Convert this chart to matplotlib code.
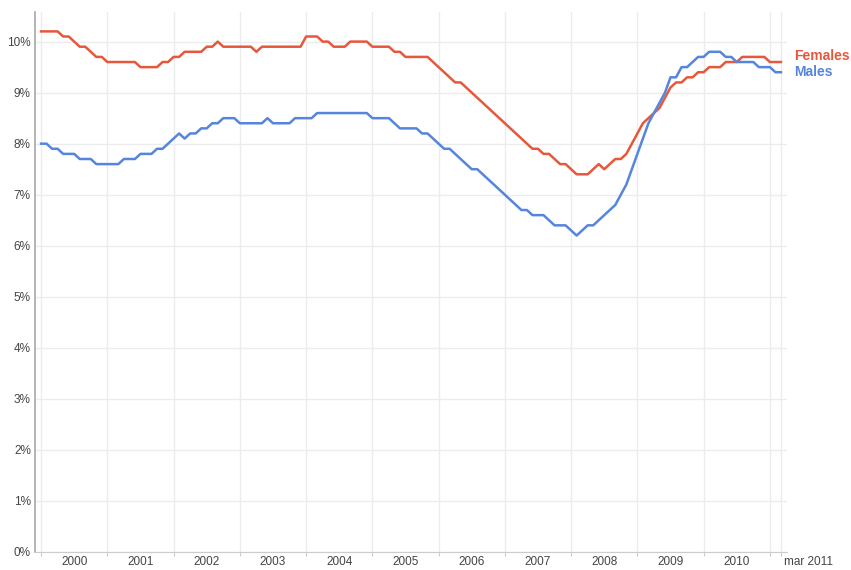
import numpy as np
import matplotlib.pyplot as plt

plt.rcParams['font.family'] = ['Liberation Sans', 'DejaVu Sans']

# monthly unemployment rate (%), Jan 2000 .. Mar 2011
females = ([10.2] * 4 + [10.1] * 2 + [10.0] + [9.9] * 2 + [9.8] + [9.7] * 2
           + [9.6] * 6 + [9.5] * 4 + [9.6] * 2 + [9.7] * 2 + [9.8] * 4
           + [9.9] * 2 + [10.0] + [9.9] * 6 + [9.8] + [9.9] * 8
           + [10.1] * 3 + [10.0] * 2 + [9.9] * 3 + [10.0] * 4 + [9.9] * 4
           + [9.8] * 2 + [9.7] * 5
           + [9.6, 9.5, 9.4, 9.3, 9.2, 9.2, 9.1, 9.0, 8.9, 8.8, 8.7, 8.6, 8.5,
              8.4, 8.3, 8.2, 8.1, 8.0, 7.9, 7.9]
           + [7.8, 7.8, 7.7, 7.6, 7.6, 7.5, 7.4, 7.4, 7.4, 7.5, 7.6, 7.5, 7.6,
              7.7, 7.7, 7.8, 8.0, 8.2, 8.4, 8.5, 8.6, 8.7, 8.9]
           + [9.1, 9.2, 9.2, 9.3, 9.3, 9.4, 9.4, 9.5, 9.5, 9.5, 9.6, 9.6, 9.6]
           + [9.7] * 5 + [9.6] * 3)

males = ([8.0] * 2 + [7.9] * 2 + [7.8] * 3 + [7.7] * 3 + [7.6] * 5
         + [7.7] * 3 + [7.8] * 3 + [7.9] * 2
         + [8.0, 8.1, 8.2, 8.1, 8.2, 8.2, 8.3, 8.3, 8.4, 8.4]
         + [8.5] * 3 + [8.4] * 5 + [8.5] + [8.4] * 4
         + [8.5] * 4 + [8.6] * 10 + [8.5] * 4 + [8.4] + [8.3] * 3
         + [8.3, 8.2, 8.2, 8.1, 8.0, 7.9, 7.9, 7.8, 7.7, 7.6, 7.5, 7.5, 7.4,
            7.3, 7.2, 7.1, 7.0, 6.9, 6.8, 6.7, 6.7, 6.6, 6.6]
         + [6.6, 6.5, 6.4, 6.4, 6.4, 6.3, 6.2, 6.3, 6.4, 6.4, 6.5, 6.6, 6.7,
            6.8, 7.0, 7.2, 7.5, 7.8, 8.1, 8.4, 8.6, 8.8, 9.0]
         + [9.3, 9.3, 9.5, 9.5, 9.6, 9.7, 9.7, 9.8, 9.8, 9.8, 9.7, 9.7]
         + [9.6] * 4 + [9.5] * 3 + [9.4] * 2)

years = [str(y) for y in range(2000, 2011)]
last_label = "mar 2011"

months = np.arange(len(females))

red = '#e6583b'
blue = '#5585dc'
grid = '#ececec'
axis_c = '#a8a8a8'
text_c = '#444444'

fig = plt.figure(figsize=(8.51, 5.70), dpi=100)
ax = fig.add_axes([35 / 851, 18 / 570, 752 / 851, 540 / 570])

ax.set_xlim(-1.1, 135.1)
ax.set_ylim(0, 10.58)

# grid
for y in range(0, 11):
    ax.axhline(y, color=grid, lw=1, zorder=0)
for m in list(range(0, 133, 12)) + [134]:
    ax.axvline(m, color=grid, lw=1, zorder=0)

ax.plot(months, females, color=red, lw=1.8, solid_joinstyle='round', zorder=3)
ax.plot(months, males, color=blue, lw=1.8, solid_joinstyle='round', zorder=3)

for s in ['top', 'right']:
    ax.spines[s].set_visible(False)
ax.spines['left'].set_color(axis_c)
ax.spines['left'].set_linewidth(1.2)
ax.spines['bottom'].set_color('#cccccc')

ax.set_yticks(range(0, 11))
ax.set_yticklabels([f"{y}%" for y in range(0, 11)], fontsize=8.5, color=text_c)
ax.tick_params(axis='y', length=0, pad=3)

ax.set_xticks(list(range(0, 133, 12)) + [134])
ax.set_xticklabels([])
ax.tick_params(axis='x', length=3, color='#cccccc')
for i, lab in enumerate(years):
    ax.text(i * 12 + 6, -0.008, lab, ha='center', va='top', fontsize=8.5,
            color=text_c, transform=ax.get_xaxis_transform(), clip_on=False)
ax.text(134.5, -0.008, last_label, ha='left', va='top',
        fontsize=8.5, color=text_c, transform=ax.get_xaxis_transform(),
        clip_on=False)

ax.text(136.3, 9.71, "Females", color=red, fontsize=10, fontweight='bold',
        va='center', ha='left', clip_on=False)
ax.text(136.3, 9.40, "Males", color=blue, fontsize=10, fontweight='bold',
        va='center', ha='left', clip_on=False)

fig.savefig("out.png", dpi=100)
